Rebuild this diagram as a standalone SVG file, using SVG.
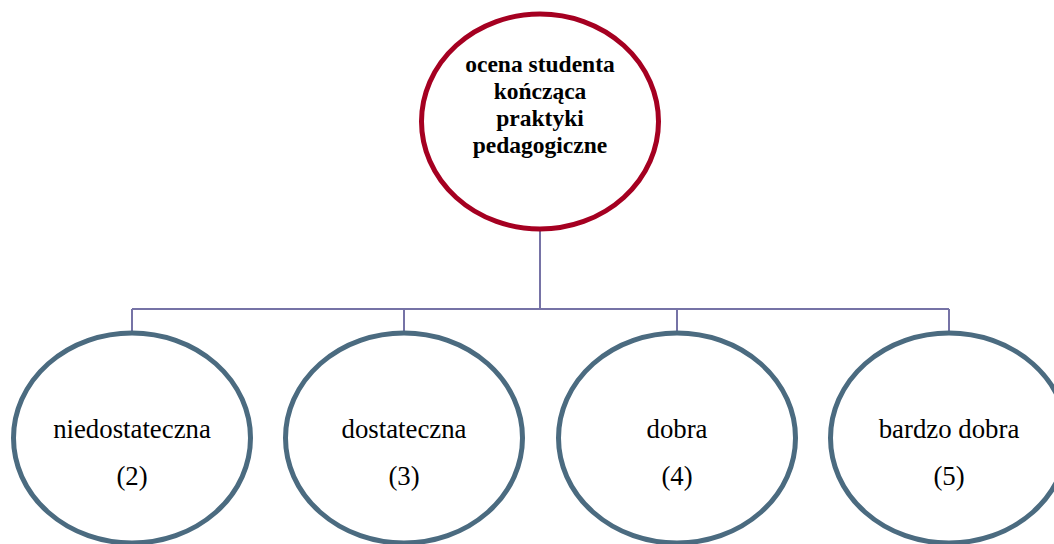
<svg xmlns="http://www.w3.org/2000/svg" width="1054" height="544" viewBox="0 0 1054 544">
<style>
.top{fill:#fff;stroke:#A50021;stroke-width:5}
.leaf{fill:#fff;stroke:#4B6B80;stroke-width:5}
.conn{fill:none;stroke:#7673A6;stroke-width:2}
text{font-family:'Liberation Serif','Times New Roman',Times,serif;fill:#000;text-anchor:middle}
.tt{font-weight:bold;font-size:23.5px}
.lt{font-size:26.8px}
</style>
<rect width="1054" height="544" fill="#fff"/>
<g id="connectors">
<path class="conn" d="M540 229 V309 M132 309 H949 M132 309 V334 M404 309 V334 M677 309 V334 M949 309 V334"/>
</g>
<g id="root">
<ellipse class="top" cx="540" cy="121.5" rx="118.5" ry="107.5"/>
<text class="tt" x="540" y="72">ocena studenta</text>
<text class="tt" x="540" y="99">kończąca</text>
<text class="tt" x="540" y="126">praktyki</text>
<text class="tt" x="540" y="153">pedagogiczne</text>
</g>
<g id="n2">
<ellipse class="leaf" cx="132" cy="438" rx="118.5" ry="105"/>
<text class="lt" x="132" y="438">niedostateczna</text>
<text class="lt" x="132" y="485">(2)</text>
</g>
<g id="n3">
<ellipse class="leaf" cx="404" cy="438" rx="118.5" ry="105"/>
<text class="lt" x="404" y="438">dostateczna</text>
<text class="lt" x="404" y="485">(3)</text>
</g>
<g id="n4">
<ellipse class="leaf" cx="677" cy="438" rx="118.5" ry="105"/>
<text class="lt" x="677" y="438">dobra</text>
<text class="lt" x="677" y="485">(4)</text>
</g>
<g id="n5">
<ellipse class="leaf" cx="949" cy="438" rx="118.5" ry="105"/>
<text class="lt" x="949" y="438">bardzo dobra</text>
<text class="lt" x="949" y="485">(5)</text>
</g>
</svg>
